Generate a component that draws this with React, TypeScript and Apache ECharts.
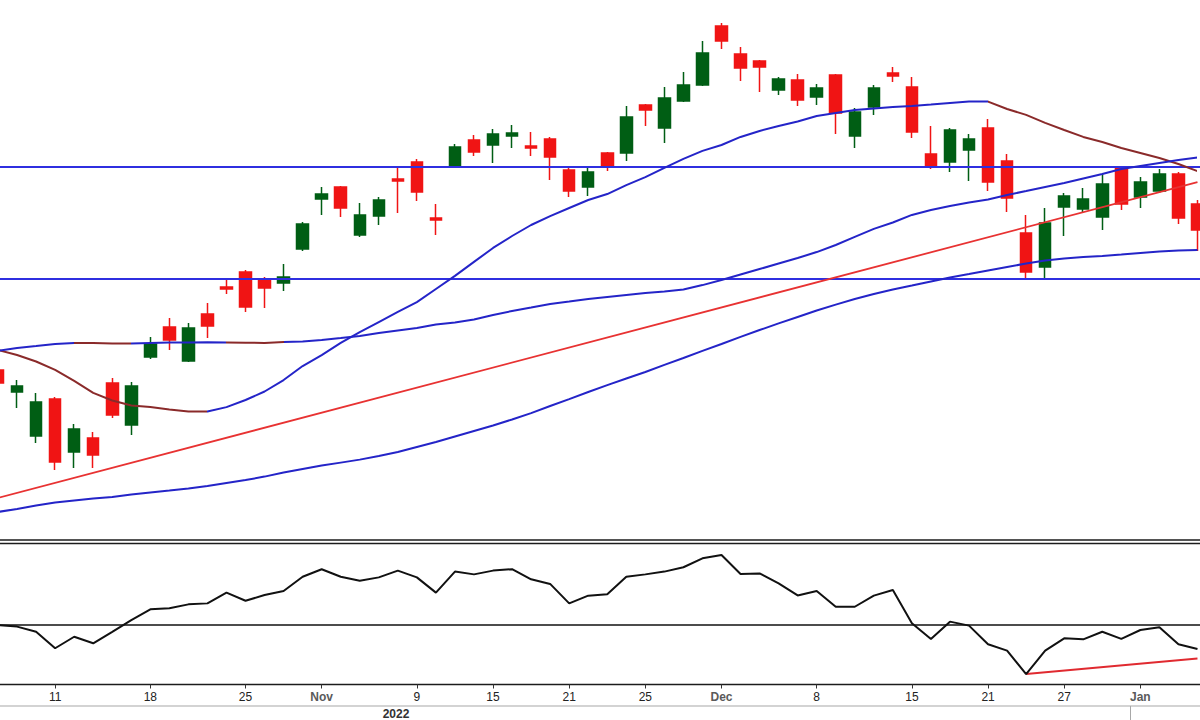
import React, { useEffect, useRef } from "react";
import * as echarts from "echarts";

// Trading days (Nifty, Oct 2022 - Jan 2023)
const dates = [
  "2022-10-06", "2022-10-07", "2022-10-10", "2022-10-11", "2022-10-12", "2022-10-13", "2022-10-14", "2022-10-17",
  "2022-10-18", "2022-10-19", "2022-10-20", "2022-10-21", "2022-10-24", "2022-10-25", "2022-10-27", "2022-10-28",
  "2022-10-31", "2022-11-01", "2022-11-02", "2022-11-03", "2022-11-04", "2022-11-07", "2022-11-09", "2022-11-10",
  "2022-11-11", "2022-11-14", "2022-11-15", "2022-11-16", "2022-11-17", "2022-11-18", "2022-11-21", "2022-11-22",
  "2022-11-23", "2022-11-24", "2022-11-25", "2022-11-28", "2022-11-29", "2022-11-30", "2022-12-01", "2022-12-02",
  "2022-12-05", "2022-12-06", "2022-12-07", "2022-12-08", "2022-12-09", "2022-12-12", "2022-12-13", "2022-12-14",
  "2022-12-15", "2022-12-16", "2022-12-19", "2022-12-20", "2022-12-21", "2022-12-22", "2022-12-23", "2022-12-26",
  "2022-12-27", "2022-12-28", "2022-12-29", "2022-12-30", "2023-01-02", "2023-01-03", "2023-01-04", "2023-01-05",
];

const labelDates = [
  "2022-10-11", "2022-10-18", "2022-10-25", "2022-11-01", "2022-11-09", "2022-11-15", "2022-11-21",
  "2022-11-25", "2022-12-01", "2022-12-08", "2022-12-15", "2022-12-21", "2022-12-27", "2023-01-02",
];
const monthNames = ["Jan", "Feb", "Mar", "Apr", "May", "Jun", "Jul", "Aug", "Sep", "Oct", "Nov", "Dec"];

const opens = [
  17387, 17291, 17099, 17260, 17029, 17090, 17330, 17147, 17443, 17574, 17426, 17631, 17749, 17814, 17779, 17766,
  17914, 18132, 18185, 17975, 18058, 18220, 18294, 18050, 18272, 18390, 18368, 18407, 18363, 18394, 18259, 18185,
  18333, 18333, 18542, 18442, 18560, 18629, 18887, 18765, 18734, 18608, 18651, 18577, 18673, 18407, 18533, 18682,
  18621, 18329, 18294, 18346, 18442, 18298, 17984, 17836, 18098, 18089, 18054, 18268, 18141, 18167, 18241, 18111,
];
const closes = [
  17330, 17317, 17247, 16986, 17130, 17016, 17191, 17317, 17500, 17518, 17570, 17579, 17740, 17661, 17744, 17792,
  18023, 18154, 18093, 18063, 18128, 18211, 18163, 18041, 18359, 18337, 18416, 18420, 18355, 18315, 18167, 18250,
  18272, 18490, 18520, 18573, 18629, 18769, 18821, 18704, 18708, 18656, 18564, 18616, 18507, 18512, 18616, 18669,
  18424, 18272, 18433, 18394, 18206, 18137, 17814, 18028, 18145, 18132, 18198, 18111, 18206, 18241, 18050, 17997,
];
const lows = [
  17317, 17221, 17069, 16951, 16960, 16960, 17178, 17103, 17435, 17474, 17422, 17526, 17718, 17640, 17657, 17731,
  17906, 18063, 18054, 17967, 18019, 18071, 18124, 17975, 18268, 18320, 18289, 18355, 18320, 18215, 18141, 18145,
  18254, 18298, 18451, 18377, 18555, 18625, 18786, 18647, 18599, 18586, 18538, 18542, 18416, 18355, 18499, 18642,
  18398, 18263, 18250, 18211, 18167, 18076, 17784, 17784, 17971, 18071, 17997, 18084, 18093, 18159, 18023, 17906,
];
const highs = [
  17404, 17343, 17287, 17269, 17151, 17116, 17352, 17334, 17531, 17613, 17592, 17679, 17779, 17823, 17792, 17849,
  18032, 18185, 18189, 18115, 18141, 18268, 18307, 18111, 18372, 18411, 18438, 18455, 18424, 18403, 18268, 18268,
  18337, 18538, 18547, 18621, 18686, 18821, 18900, 18795, 18738, 18664, 18677, 18634, 18677, 18529, 18629, 18708,
  18664, 18451, 18442, 18416, 18481, 18329, 18063, 18093, 18159, 18180, 18241, 18272, 18228, 18263, 18250, 18128,
];

// Moving averages
const maFast = [
  17474, 17452, 17424, 17387, 17339, 17287, 17254, 17232, 17225, 17215, 17206, 17206, 17225, 17256, 17293, 17343,
  17404, 17452, 17505, 17552, 17596, 17640, 17683, 17740, 17797, 17858, 17919, 17971, 18019, 18058, 18093, 18128,
  18154, 18193, 18228, 18268, 18307, 18342, 18368, 18403, 18429, 18451, 18470, 18494, 18507, 18520, 18527, 18533,
  18538, 18544, 18551, 18557, 18557, 18525, 18499, 18464, 18433, 18403, 18381, 18355, 18333, 18311, 18285, 18254,
];
const maMid = [
  17470, 17483, 17491, 17500, 17505, 17505, 17502, 17502, 17505, 17507, 17507, 17508, 17507, 17506, 17505, 17509,
  17511, 17518, 17526, 17535, 17548, 17559, 17570, 17585, 17594, 17607, 17627, 17644, 17659, 17675, 17685, 17696,
  17705, 17714, 17723, 17729, 17738, 17757, 17779, 17803, 17827, 17851, 17875, 17901, 17932, 17967, 18002, 18030,
  18063, 18084, 18102, 18117, 18130, 18150, 18167, 18185, 18202, 18222, 18241, 18263, 18276, 18289, 18302, 18313,
];
const maSlow = [
  16768, 16781, 16796, 16809, 16818, 16827, 16833, 16844, 16853, 16861, 16870, 16881, 16894, 16907, 16922, 16940,
  16955, 16970, 16983, 16996, 17012, 17029, 17051, 17073, 17097, 17121, 17145, 17171, 17199, 17230, 17260, 17291,
  17321, 17350, 17378, 17409, 17439, 17470, 17500, 17531, 17561, 17590, 17618, 17646, 17672, 17696, 17718, 17738,
  17755, 17773, 17790, 17805, 17821, 17836, 17851, 17864, 17873, 17879, 17884, 17890, 17897, 17903, 17908, 17910,
];

// Oscillator (lower panel)
const rsi = [
  49.7, 48.9, 46.3, 38.0, 43.8, 40.5, 46.3, 52.2, 57.6, 58.1, 60.1, 60.6, 66.0, 61.9, 64.8, 66.8,
  74.0, 77.8, 74.0, 72.0, 73.7, 77.1, 73.7, 66.0, 76.6, 75.2, 77.1, 77.8, 72.7, 70.4, 60.6, 64.5,
  65.2, 74.0, 75.2, 76.6, 78.8, 83.3, 85.0, 75.4, 75.7, 70.7, 64.6, 66.8, 58.9, 58.9, 64.5, 67.3,
  50.6, 42.7, 51.4, 49.4, 40.0, 36.8, 25.0, 36.8, 43.0, 42.5, 46.3, 42.7, 47.2, 48.6, 40.0, 37.6,
];
const rsiMid = 50;

// Drawn levels and trend lines
const levels = [18272, 17784];
const trendDates = ["2022-10-06", "2023-01-05"];
const trendPrices = [16829, 18206];
const rsiTrendDates = ["2022-12-23", "2023-01-05"];
const rsiTrendValues = [25.0, 32.8];

// Segments of falling MA (drawn brown)
const fastFalling = [[0, 11], [52, 63]];
const midFalling = [[4, 7], [12, 15]];

const BLUE = "#2424c8";
const BROWN = "#8a2a2a";
const LEVEL_BLUE = "#2f2fe0";
const RED_UP = "#e83232";
const GREEN = "#005e14";
const RED = "#f01414";
const FONT = 'Arial, "Liberation Sans", sans-serif';

function piecesFor(falling: number[][], n: number) {
  const pieces: any[] = [];
  let start = 0;
  falling.forEach(([a, b]) => {
    if (a > start) pieces.push({ gte: start, lt: a, color: BLUE });
    pieces.push({ gte: a, lte: b, color: BROWN });
    start = b;
  });
  if (start < n - 1) pieces.push({ gt: start, lte: n - 1, color: BLUE });
  return pieces;
}

export default function App() {
  const ref = useRef<HTMLDivElement>(null);

  useEffect(() => {
    if (!ref.current) return;
    const chart = echarts.init(ref.current, undefined, { renderer: "svg" });

    const candleData = dates.map((_, i) => [opens[i], closes[i], lows[i], highs[i]]);
    const isMonthStart = (idx: number) => idx > 0 && dates[idx].slice(5, 7) !== dates[idx - 1].slice(5, 7);

    const priceTop = 19008.72;
    const priceBottom = 16645.6;

    const option: any = {
      animation: false,
      backgroundColor: "#ffffff",
      grid: [
        {
          left: -11.5, right: -7, top: -2, height: 542,
          show: true, borderColor: "#1c1c1c", borderWidth: 1.5, backgroundColor: "transparent",
          containLabel: false, outerBoundsMode: "none",
        },
        {
          left: -11.5, right: -7, top: 543.5, height: 141,
          show: true, borderColor: "#1c1c1c", borderWidth: 1.5, backgroundColor: "transparent",
          containLabel: false, outerBoundsMode: "none",
        },
      ],
      xAxis: [
        {
          type: "category", gridIndex: 0, data: dates, boundaryGap: true,
          axisLine: { show: false }, axisTick: { show: false }, axisLabel: { show: false }, splitLine: { show: false },
        },
        {
          type: "category", gridIndex: 1, data: dates, boundaryGap: true, position: "bottom",
          axisLine: { show: false },
          axisTick: {
            show: true, alignWithLabel: true, length: 4,
            interval: (_i: number, v: string) => labelDates.includes(v),
            lineStyle: { color: "#333", width: 1 },
          },
          axisLabel: {
            show: true, margin: 6,
            interval: (_i: number, v: string) => labelDates.includes(v),
            formatter: (v: string) => {
              const idx = dates.indexOf(v);
              if (isMonthStart(idx)) return `{m|${monthNames[parseInt(v.slice(5, 7), 10) - 1]}}`;
              return `{d|${parseInt(v.slice(8, 10), 10)}}`;
            },
            rich: {
              d: { fontSize: 12, color: "#222", fontFamily: FONT },
              m: { fontSize: 12, color: "#5a5a5a", fontWeight: "bold", fontFamily: FONT },
            },
          },
          splitLine: { show: false },
        },
      ],
      yAxis: [
        { type: "value", gridIndex: 0, min: priceBottom, max: priceTop, show: false, splitLine: { show: false } },
        { type: "value", gridIndex: 1, min: 19.75, max: 90.75, show: false, splitLine: { show: false } },
      ],
      visualMap: [
        { type: "piecewise", show: false, seriesIndex: 1, dimension: 0, pieces: piecesFor(fastFalling, dates.length) },
        { type: "piecewise", show: false, seriesIndex: 2, dimension: 0, pieces: piecesFor(midFalling, dates.length) },
      ],
      series: [
        {
          type: "candlestick", xAxisIndex: 0, yAxisIndex: 0, data: candleData, barWidth: 12,
          itemStyle: { color: GREEN, color0: RED, borderColor: GREEN, borderColor0: RED, borderWidth: 1.5 },
          z: 2,
          markLine: {
            silent: true, symbol: ["none", "none"], label: { show: false }, animation: false, z: 4,
            data: [
              ...levels.map((v) => ({ yAxis: v, lineStyle: { color: LEVEL_BLUE, width: 1.8, type: "solid" } })),
              [
                { coord: [trendDates[0], trendPrices[0]], lineStyle: { color: RED_UP, width: 1.8, type: "solid" } },
                { coord: [trendDates[1], trendPrices[1]] },
              ],
            ],
          },
        },
        {
          type: "line", xAxisIndex: 0, yAxisIndex: 0, data: maFast, showSymbol: false, smooth: false,
          lineStyle: { width: 2 }, z: 5,
        },
        {
          type: "line", xAxisIndex: 0, yAxisIndex: 0, data: maMid, showSymbol: false, smooth: false,
          lineStyle: { width: 2 }, z: 5,
        },
        {
          type: "line", xAxisIndex: 0, yAxisIndex: 0, data: maSlow, showSymbol: false, smooth: false,
          lineStyle: { width: 2, color: BLUE }, itemStyle: { color: BLUE }, z: 5,
        },
        {
          type: "line", xAxisIndex: 1, yAxisIndex: 1, data: rsi, showSymbol: false,
          lineStyle: { width: 2, color: "#111" }, itemStyle: { color: "#111" }, z: 5,
          markLine: {
            silent: true, symbol: ["none", "none"], label: { show: false }, animation: false,
            data: [
              { yAxis: rsiMid, lineStyle: { color: "#111", width: 1.5, type: "solid" } },
              [
                { coord: [rsiTrendDates[0], rsiTrendValues[0]], lineStyle: { color: "#e02a30", width: 2, type: "solid" } },
                { coord: [rsiTrendDates[1], rsiTrendValues[1]] },
              ],
            ],
          },
        },
      ],
      graphic: [
        { type: "line", silent: true, shape: { x1: 0, y1: 706, x2: 1200, y2: 706 }, style: { stroke: "#c4c4c4", lineWidth: 1.5 } },
        { type: "line", silent: true, shape: { x1: 1130.5, y1: 706, x2: 1130.5, y2: 720 }, style: { stroke: "#a8a8a8", lineWidth: 1 } },
        {
          type: "text", silent: true, x: 396, y: 714,
          style: { text: "2022", fill: "#333", font: `bold 12px ${FONT}`, align: "center", verticalAlign: "middle" },
        },
      ],
    };

    chart.setOption(option);
    return () => chart.dispose();
  }, []);

  return (
    <div
      ref={ref}
      style={{ position: "absolute", left: 0, top: 0, width: 1200, height: 720, background: "#fff" }}
    />
  );
}
